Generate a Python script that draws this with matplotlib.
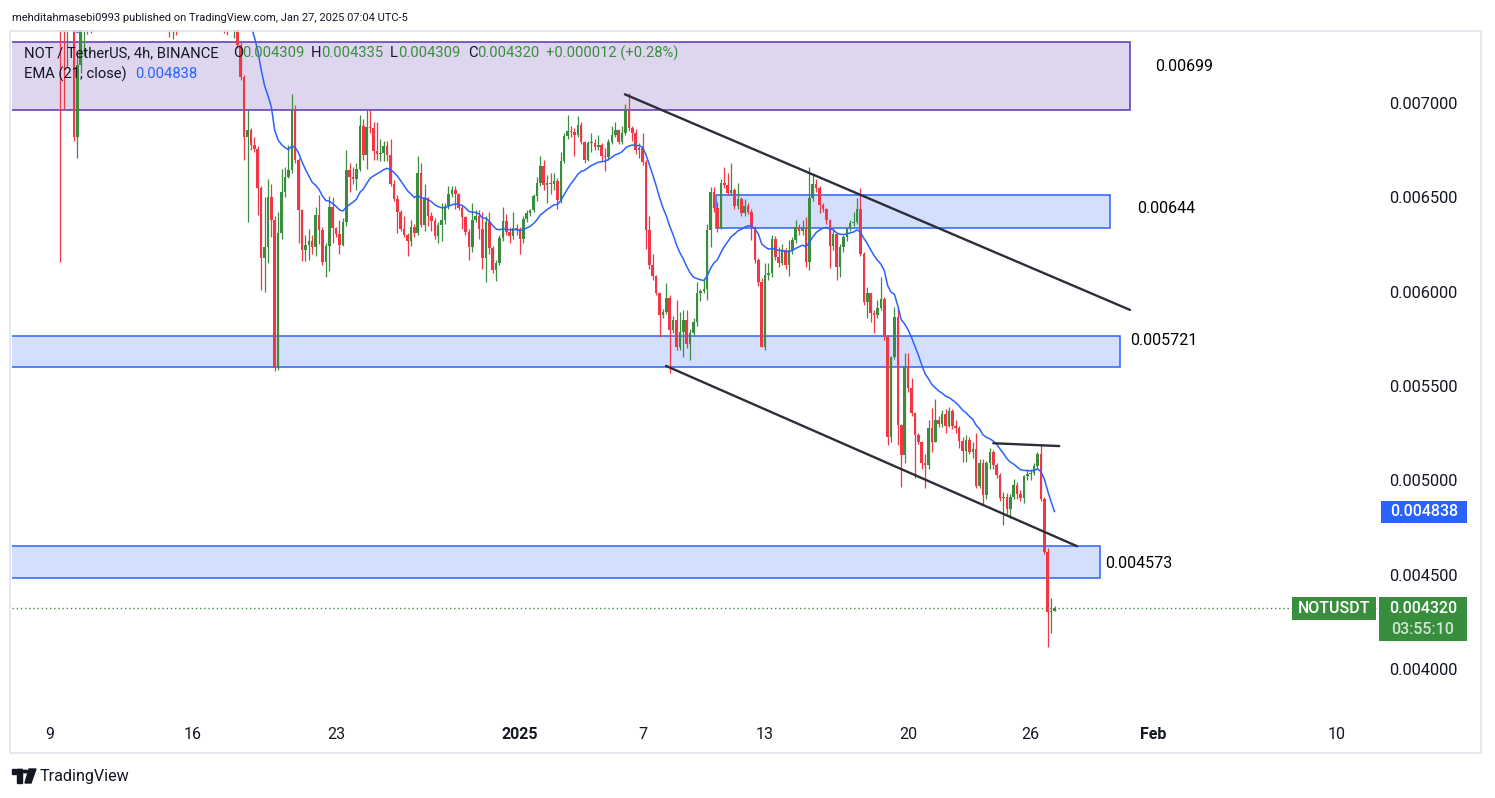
#!/usr/bin/env python3
"""NOT/USDT 4h candles with EMA(21), drawn zones and trend lines -> out.png"""

import matplotlib

matplotlib.use("Agg")
import matplotlib.dates as mdates
import matplotlib.pyplot as plt
import numpy as np
import pandas as pd
from matplotlib.patches import Circle, Polygon, Rectangle

# ---------------------------------------------------------------------------
# data: 4h bars, prices in millionths of USDT (open = previous close)
# ---------------------------------------------------------------------------
first_open = 7720
closes = [
    7450, 7380, 7420, 7520, 6820, 7201, 7480, 7560, 7520, 7580,
    7650, 7720, 7800, 7760, 7850, 7900, 7820, 7780, 7860, 7950,
    8020, 7940, 7880, 7800, 7760, 7700, 7740, 7680, 7620, 7580,
    7640, 7520, 7460, 7500, 7480, 7560, 7620, 7680, 7750, 7700,
    7790, 7850, 7910, 7870, 7800, 7750, 7710, 7670, 7620, 7580,
    7630, 7650, 7307, 7139, 6818, 6857, 6777, 6755, 6548, 6178,
    6238, 6503, 6380, 5595, 6311, 6530, 6610, 6645, 6963, 6698,
    6433, 6221, 6247, 6268, 6235, 6406, 6327, 6157, 6242, 6449,
    6337, 6305, 6247, 6369, 6645, 6608, 6598, 6650, 6878, 6724,
    6873, 6868, 6746, 6730, 6735, 6772, 6724, 6571, 6491, 6422,
    6332, 6300, 6268, 6342, 6311, 6629, 6353, 6496, 6401, 6374,
    6295, 6353, 6380, 6454, 6518, 6539, 6518, 6443, 6396, 6316,
    6237, 6380, 6401, 6332, 6178, 6369, 6231, 6115, 6152, 6284,
    6374, 6316, 6295, 6337, 6331, 6278, 6384, 6417, 6433, 6507,
    6576, 6666, 6565, 6576, 6571, 6587, 6486, 6693, 6825, 6851,
    6846, 6830, 6883, 6794, 6698, 6788, 6790, 6765, 6775, 6719,
    6712, 6794, 6830, 6857, 6794, 6841, 6963, 6866, 6839, 6751,
    6762, 6689, 6327, 6141, 6083, 5991, 5876, 5892, 5966, 5796,
    5849, 5708, 5788, 5849, 5722, 5780, 5840, 5995, 6003, 6014,
    6327, 6530, 6442, 6336, 6574, 6566, 6524, 6540, 6454, 6490,
    6415, 6455, 6424, 6344, 6168, 6053, 5708, 6088, 6100, 6277,
    6182, 6150, 6220, 6140, 6220, 6274, 6343, 6320, 6335, 6155,
    6496, 6570, 6548, 6459, 6437, 6380, 6242, 6305, 6132, 6235,
    6288, 6336, 6364, 6370, 6436, 6200, 5946, 5991, 5885, 5878,
    5912, 5960, 5761, 5231, 5652, 5865, 5293, 5134, 5606, 5487,
    5355, 5240, 5204, 5090, 5080, 5275, 5205, 5319, 5300, 5350,
    5290, 5367, 5290, 5275, 5210, 5157, 5213, 5152, 5165, 4970,
    5090, 4922, 5090, 5150, 5080, 5027, 4905, 4910, 4845, 4910,
    4975, 4925, 4905, 5020, 5035, 5040, 5075, 5140, 4899, 4621,
    4303, 4309, 4320,
]
highs = [
    7790, 7520, 7480, 7600, 7560, 7260, 7560, 7640, 7600, 7650,
    7720, 7780, 7860, 7840, 7900, 7980, 7940, 7860, 7900, 8000,
    8090, 8060, 7980, 7920, 7850, 7800, 7790, 7780, 7720, 7660,
    7700, 7680, 7560, 7560, 7550, 7600, 7680, 7720, 7800, 7780,
    7890, 7910, 7970, 7950, 7910, 7850, 7800, 7750, 7710, 7650,
    7690, 7710, 7680, 7330, 7150, 6963, 6870, 6820, 6770, 6560,
    6503, 6595, 6570, 6400, 6420, 6650, 6660, 6777, 7048, 6990,
    6710, 6440, 6300, 6330, 6300, 6450, 6510, 6340, 6260, 6505,
    6500, 6345, 6380, 6390, 6751, 6680, 6660, 6680, 6936, 6915,
    6963, 6963, 6900, 6900, 6810, 6800, 6800, 6810, 6590, 6510,
    6430, 6400, 6310, 6380, 6360, 6720, 6680, 6570, 6500, 6420,
    6390, 6370, 6470, 6470, 6560, 6560, 6560, 6525, 6460, 6400,
    6330, 6470, 6430, 6430, 6420, 6400, 6420, 6240, 6170, 6300,
    6450, 6410, 6340, 6420, 6360, 6340, 6400, 6430, 6440, 6520,
    6610, 6720, 6700, 6620, 6630, 6630, 6600, 6740, 6840, 6935,
    6880, 6870, 6930, 6900, 6800, 6800, 6840, 6810, 6830, 6790,
    6760, 6810, 6880, 6900, 6860, 6880, 6995, 7055, 6880, 6860,
    6790, 6840, 6700, 6400, 6200, 6090, 5995, 5910, 6046, 5980,
    5870, 5956, 5894, 5903, 5900, 5800, 5860, 6053, 6015, 6072,
    6360, 6555, 6555, 6476, 6595, 6662, 6630, 6680, 6550, 6574,
    6500, 6490, 6470, 6440, 6350, 6180, 6070, 6153, 6150, 6300,
    6295, 6238, 6250, 6230, 6274, 6290, 6380, 6360, 6380, 6397,
    6660, 6620, 6595, 6560, 6470, 6445, 6385, 6330, 6310, 6250,
    6300, 6345, 6380, 6424, 6495, 6548, 6210, 6027, 5995, 5900,
    5956, 6079, 5970, 5770, 5660, 5920, 5920, 5300, 5676, 5676,
    5540, 5360, 5250, 5210, 5140, 5319, 5383, 5430, 5340, 5370,
    5376, 5390, 5380, 5320, 5290, 5230, 5240, 5230, 5200, 5249,
    5110, 5110, 5100, 5170, 5160, 5090, 5040, 4940, 4930, 4925,
    5004, 4990, 4950, 5030, 5060, 5060, 5090, 5152, 5187, 4910,
    4640, 4375, 4335,
]
lows = [
    6157, 6970, 7190, 7400, 6800, 6708, 7159, 7250, 7365, 7370,
    7560, 7610, 7690, 7700, 7720, 7800, 7780, 7720, 7740, 7820,
    7900, 7900, 7840, 7760, 7700, 7650, 7660, 7640, 7580, 7520,
    7540, 7450, 7350, 7340, 7360, 7420, 7520, 7580, 7640, 7660,
    7750, 7750, 7810, 7830, 7750, 7710, 7660, 7610, 7370, 7360,
    7390, 7344, 7290, 7120, 6698, 6371, 6750, 6740, 6406, 6009,
    6000, 6150, 6290, 5581, 5585, 6280, 6500, 6600, 6630, 6680,
    6260, 6160, 6160, 6170, 6200, 6190, 6250, 6140, 6080, 6110,
    6260, 6290, 6200, 6240, 6350, 6530, 6570, 6540, 6640, 6700,
    6650, 6840, 6700, 6700, 6690, 6690, 6690, 6560, 6480, 6310,
    6320, 6290, 6190, 6240, 6290, 6300, 6340, 6320, 6350, 6320,
    6280, 6260, 6270, 6360, 6440, 6500, 6440, 6430, 6330, 6300,
    6170, 6210, 6370, 6280, 6120, 6050, 6200, 6100, 6056, 6140,
    6270, 6300, 6260, 6280, 6300, 6200, 6260, 6370, 6400, 6420,
    6480, 6560, 6540, 6470, 6520, 6540, 6440, 6470, 6680, 6810,
    6820, 6720, 6820, 6780, 6680, 6690, 6740, 6750, 6750, 6690,
    6640, 6700, 6780, 6820, 6780, 6780, 6830, 6850, 6800, 6730,
    6710, 6670, 6226, 6120, 6060, 5980, 5760, 5860, 5880, 5568,
    5780, 5690, 5690, 5655, 5700, 5637, 5770, 5820, 5950, 5990,
    5956, 6238, 6420, 6318, 6330, 6550, 6510, 6520, 6440, 6440,
    6400, 6400, 6410, 6274, 6150, 6030, 5705, 5690, 6060, 6080,
    6170, 6130, 6140, 6120, 6084, 6200, 6260, 6300, 6300, 6130,
    6115, 6480, 6530, 6415, 6420, 6360, 6124, 6220, 6062, 6080,
    6210, 6270, 6320, 6350, 6360, 6190, 5930, 5859, 5841, 5779,
    5860, 5900, 5743, 5187, 5200, 5640, 5187, 4966, 5090, 5470,
    5340, 5010, 5190, 5060, 4957, 5060, 5151, 5200, 5280, 5280,
    5249, 5280, 5270, 5250, 5169, 5098, 5098, 5140, 5120, 4960,
    4960, 4869, 4900, 5060, 5060, 5010, 4890, 4763, 4820, 4800,
    4900, 4900, 4890, 4880, 5000, 5000, 5030, 5060, 4890, 4610,
    4118, 4190, 4309,
]
bar_start = "2024-12-09T12:00"
bar_hours = 4
ema_span = 21

# time scale
tick_dates = ["2024-12-09", "2024-12-16", "2024-12-23", "2025-01-01", "2025-01-07",
              "2025-01-13", "2025-01-20", "2025-01-26", "2025-02-01", "2025-02-10"]
tick_labels = ["9", "16", "23", "2025", "7", "13", "20", "26", "Feb", "10"]
bold_ticks = ["2025", "Feb"]
view_start, view_end = "2024-12-07T03:20", "2025-02-12T00:00"
price_lo, price_hi = 0.003771, 0.007387
price_ticks = [0.0040, 0.0045, 0.0050, 0.0055, 0.0060, 0.0065, 0.0070]

# drawn zones
zone_starts = ["2024-12-01", "2025-01-10T14:24", "2024-12-01", "2024-12-01"]
zone_ends = ["2025-01-30T20:38", "2025-01-29T21:07", "2025-01-30T08:53", "2025-01-29T09:36"]
zone_lows = [0.006963, 0.006336, 0.005599, 0.004480]
zone_highs = [0.007322, 0.006512, 0.005765, 0.004651]
zone_colors = ["#5e35b1", "#2962ff", "#2962ff", "#2962ff"]
zone_labels = ["0.00699", "0.00644", "0.005721", "0.004573"]
label_dates = ["2025-02-01T02:10", "2025-01-31T05:02", "2025-01-30T20:38", "2025-01-29T15:22"]
label_prices = [0.007196, 0.006443, 0.005743, 0.004561]

# trend lines
line_starts = ["2025-01-06T03:20", "2025-01-08T03:36", "2025-01-24T04:05"]
line_ends = ["2025-01-30T20:38", "2025-01-28T06:29", "2025-01-27T09:36"]
line_p0 = [0.007046, 0.005606, 0.005196]
line_p1 = [0.005903, 0.004650, 0.005181]

UP, DOWN = "#388e3c", "#f23645"
EMA_COLOR = "#2962ff"
TEXT = "#131722"

W, H = 1495, 798


def dnum(s):
    return mdates.date2num(np.datetime64(s))


def fx(x):
    return x / W


def fy(y):
    return 1 - y / H


plt.rcParams["font.family"] = ["Roboto", "DejaVu Sans"]
fig = plt.figure(figsize=(W / 100, H / 100), dpi=100, facecolor="white")
ax = fig.add_axes([fx(12), fy(712), (1378 - 12) / W, (712 - 30) / H])
ax.set_facecolor("white")

n = len(closes)
c = np.array(closes) * 1e-6
o = np.concatenate([[first_open], closes[:-1]]) * 1e-6
hi = np.array(highs) * 1e-6
lo = np.array(lows) * 1e-6
t = mdates.date2num(np.datetime64(bar_start) + np.arange(n) * np.timedelta64(bar_hours, "h"))
colors = np.where(c >= o, UP, DOWN)

# zones (behind the candles)
for s, e, zl, zh, col in zip(zone_starts, zone_ends, zone_lows, zone_highs, zone_colors):
    x0, x1 = dnum(s), dnum(e)
    ax.add_patch(Rectangle((x0, zl), x1 - x0, zh - zl, facecolor=col, alpha=0.2,
                           edgecolor="none", zorder=1))
    ax.add_patch(Rectangle((x0, zl), x1 - x0, zh - zl, facecolor="none",
                           edgecolor=col, lw=1.1, zorder=1.5))

# candles
body_w = 0.125
ax.vlines(t, lo, hi, colors=colors, lw=0.9, zorder=3)
ax.bar(t, np.maximum(np.abs(c - o), 5e-6), bottom=np.minimum(o, c), width=body_w,
       color=colors, linewidth=0, zorder=3)

ema = pd.Series(c).ewm(span=ema_span, adjust=False).mean().to_numpy()
ax.plot(t, ema, color=EMA_COLOR, lw=1.1, zorder=4)

for s, e, p0, p1 in zip(line_starts, line_ends, line_p0, line_p1):
    ax.plot([dnum(s), dnum(e)], [p0, p1], color="#2a2e39", lw=1.7, zorder=5,
            solid_capstyle="round")

ax.axhline(c[-1], color=UP, lw=1, ls=(0, (1, 2)), zorder=2)

for txt, d, p in zip(zone_labels, label_dates, label_prices):
    ax.text(dnum(d), p, txt, fontsize=11.5, color="black", va="center", ha="left", zorder=6)

ax.set_xlim(dnum(view_start), dnum(view_end))
ax.set_ylim(price_lo, price_hi)
ax.set_xticks([dnum(d) for d in tick_dates])
ax.set_xticklabels(tick_labels)
for lab in ax.get_xticklabels():
    if lab.get_text() in bold_ticks:
        lab.set_fontweight("bold")
ax.set_yticks(price_ticks)
ax.set_yticklabels([f"{p:.6f}" for p in price_ticks])
ax.yaxis.tick_right()
ax.tick_params(axis="x", length=0, pad=11, labelsize=11.5, colors=TEXT)
ax.tick_params(axis="y", length=0, pad=8, labelsize=11.8, colors=TEXT)
for sp in ax.spines.values():
    sp.set_visible(False)


# price scale tags
def price_fig_y(p):
    return fig.transFigure.inverted().transform(ax.transData.transform((ax.get_xlim()[0], p)))[1]


def tag(x0, x1, p, h_px, face, lines):
    yc = price_fig_y(p)
    top = yc + 11 / H
    fig.add_artist(Rectangle((fx(x0), top - h_px / H), (x1 - x0) / W, h_px / H,
                             transform=fig.transFigure, facecolor=face, edgecolor="none"))
    for k, (txt, col) in enumerate(lines):
        fig.text(fx((x0 + x1) / 2), top - (11 + 21 * k) / H, txt, color=col,
                 fontsize=11.5, ha="center", va="center", fontweight="medium")


tag(1381, 1467, ema[-1], 22, EMA_COLOR, [("0.004838", "white")])
tag(1379, 1467, c[-1], 44, UP, [("0.004320", "white"), ("03:55:10", "#cfe6d0")])
tag(1292, 1376, c[-1], 23, UP, [("NOTUSDT", "white")])

# frame
fig.add_artist(Rectangle((fx(10), fy(753)), (1481 - 10) / W, (753 - 31) / H,
                         transform=fig.transFigure, fill=False, edgecolor="#e0e3eb", lw=1.2))

# header and legend
fig.text(fx(12), fy(18), "mehditahmasebi0993 published on TradingView.com, Jan 27, 2025 07:04 UTC-5",
         fontsize=8.0, color=TEXT, va="center")
legend1 = [("NOT / TetherUS, 4h, BINANCE", 24, TEXT), ("O", 233, TEXT), ("0.004309", 242, UP),
           ("H", 311, TEXT), ("0.004335", 321, UP), ("L", 390, TEXT), ("0.004309", 398, UP),
           ("C", 468, TEXT), ("0.004320", 477, UP), ("+0.000012 (+0.28%)", 546, UP)]
for txt, x, col in legend1:
    fig.text(fx(x), fy(53), txt, fontsize=10.6, color=col, va="center")
fig.text(fx(24), fy(74), "EMA (21, close)", fontsize=10.6, color=TEXT, va="center")
fig.text(fx(135), fy(74), "0.004838", fontsize=10.6, color=EMA_COLOR, va="center")

# TradingView watermark
fig.add_artist(Rectangle((fx(12), fy(774)), 10 / W, 5 / H, transform=fig.transFigure, color=TEXT))
fig.add_artist(Rectangle((fx(17), fy(783)), 5 / W, 14 / H, transform=fig.transFigure, color=TEXT))
fig.add_artist(Circle((fx(25.5), fy(771.5)), 2.4 / W, transform=fig.transFigure, color=TEXT))
fig.add_artist(Polygon([(fx(29), fy(769)), (fx(36), fy(769)), (fx(31), fy(783)), (fx(25), fy(783))],
                       closed=True, transform=fig.transFigure, color=TEXT))
fig.text(fx(40), fy(776), "TradingView", fontsize=11.6, color=TEXT, va="center")

fig.savefig("out.png", dpi=100, facecolor="white")
